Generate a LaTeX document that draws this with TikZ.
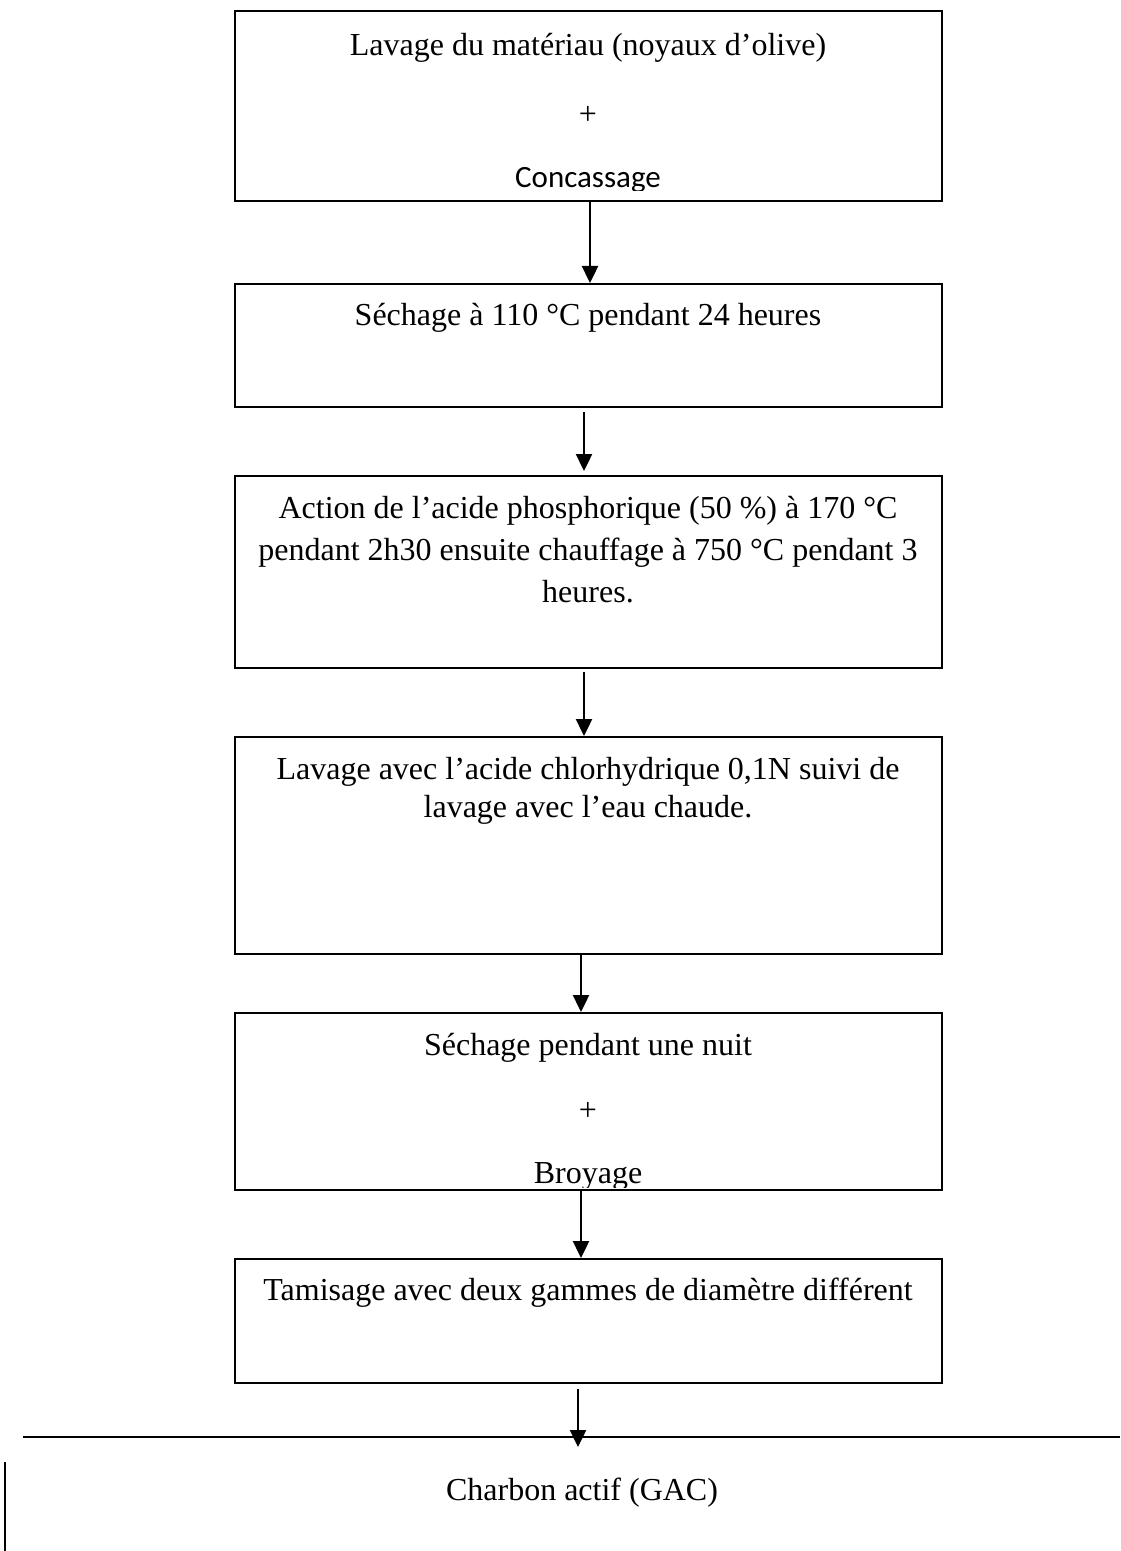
\documentclass[tikz,border=0pt]{standalone}
\usepackage{fontspec}
\setmainfont{Liberation Serif}
\newfontfamily\calibrifont{Carlito}
\usetikzlibrary{arrows.meta}

\begin{document}
\begin{tikzpicture}[x={(0.5pt,0)}, y={(0,-0.5pt)},
    etape/.style={draw, line width=1pt, minimum width=353.5pt, inner sep=0pt, anchor=north},
    txt/.style={font=\fontsize{16}{21}\selectfont, align=center, inner sep=0pt, text depth=3pt},
    ligne/.style={txt, text height=11pt},
    fleche/.style={line width=1.2pt, -{Triangle[width=8pt,length=8.5pt]}}]
    \useasboundingbox (0,0) rectangle (1120,1551);

    \node[etape, minimum height=95pt] (b1) at (588.5,10) {};
    \node[etape, minimum height=61.5pt] (b2) at (588.5,283) {};
    \node[etape, minimum height=96pt] (b3) at (588.5,475) {};
    \node[etape, minimum height=108.5pt] (b4) at (588.5,736) {};
    \node[etape, minimum height=88.5pt] (b5) at (588.5,1012) {};
    \node[etape, minimum height=62pt] (b6) at (588.5,1258) {};

    \node[ligne] (t1) at (588,48) {Lavage du matériau (noyaux d’olive)};
    \node[ligne] (p1) at (588,117) {+};
    \begin{scope}
        \clip (235,10) rectangle (942,191);
        \node[ligne, font=\calibrifont\fontsize{15.5}{19}\selectfont] (t1b) at (588,180) {Concassage};
    \end{scope}
    \node[ligne] (t2) at (588,318) {Séchage à 110 °C pendant 24 heures};
    \node[txt] (t3) at (588,552) {Action de l’acide phosphorique (50 \%) à 170 °C\\pendant 2h30 ensuite chauffage à 750 °C pendant 3\\heures.};
    \node[txt, font=\fontsize{16}{19}\selectfont] (t4) at (588,790) {Lavage avec l’acide chlorhydrique 0,1N suivi de\\lavage avec l’eau chaude.};
    \node[ligne] (t5) at (588,1047) {Séchage pendant une nuit};
    \node[ligne] (p5) at (588,1112) {+};
    \begin{scope}
        \clip (235,1012) rectangle (942,1187);
        \node[ligne] (t5b) at (588,1175) {Broyage};
    \end{scope}
    \node[ligne] (t6) at (588,1292) {Tamisage avec deux gammes de diamètre différent};
    \node[ligne] (gac) at (582,1492) {Charbon actif (GAC)};

    \draw[fleche] ([xshift=0.75pt]b1.south) -- ([xshift=0.75pt]b2.north);
    \draw[fleche, shorten <=2pt, shorten >=2pt] ([xshift=-2.25pt]b2.south) -- ([xshift=-2.25pt]b3.north);
    \draw[fleche, shorten <=1.5pt] ([xshift=-2.25pt]b3.south) -- ([xshift=-2.25pt]b4.north);
    \draw[fleche] ([xshift=-3.75pt]b4.south) -- ([xshift=-3.75pt]b5.north);
    \draw[fleche] ([xshift=-3.75pt]b5.south) -- ([xshift=-3.75pt]b6.north);
    \coordinate (fin) at (578,1447);
    \draw[fleche, shorten <=2.5pt] ([xshift=-5.25pt]b6.south) -- (fin);

    \coordinate (g) at (23,1437);
    \coordinate (d) at (1120,1437);
    \draw[line width=1pt] (g) -- (d);
    \draw[line width=0.7pt] (5,1462) -- (5,1551);
\end{tikzpicture}
\end{document}
